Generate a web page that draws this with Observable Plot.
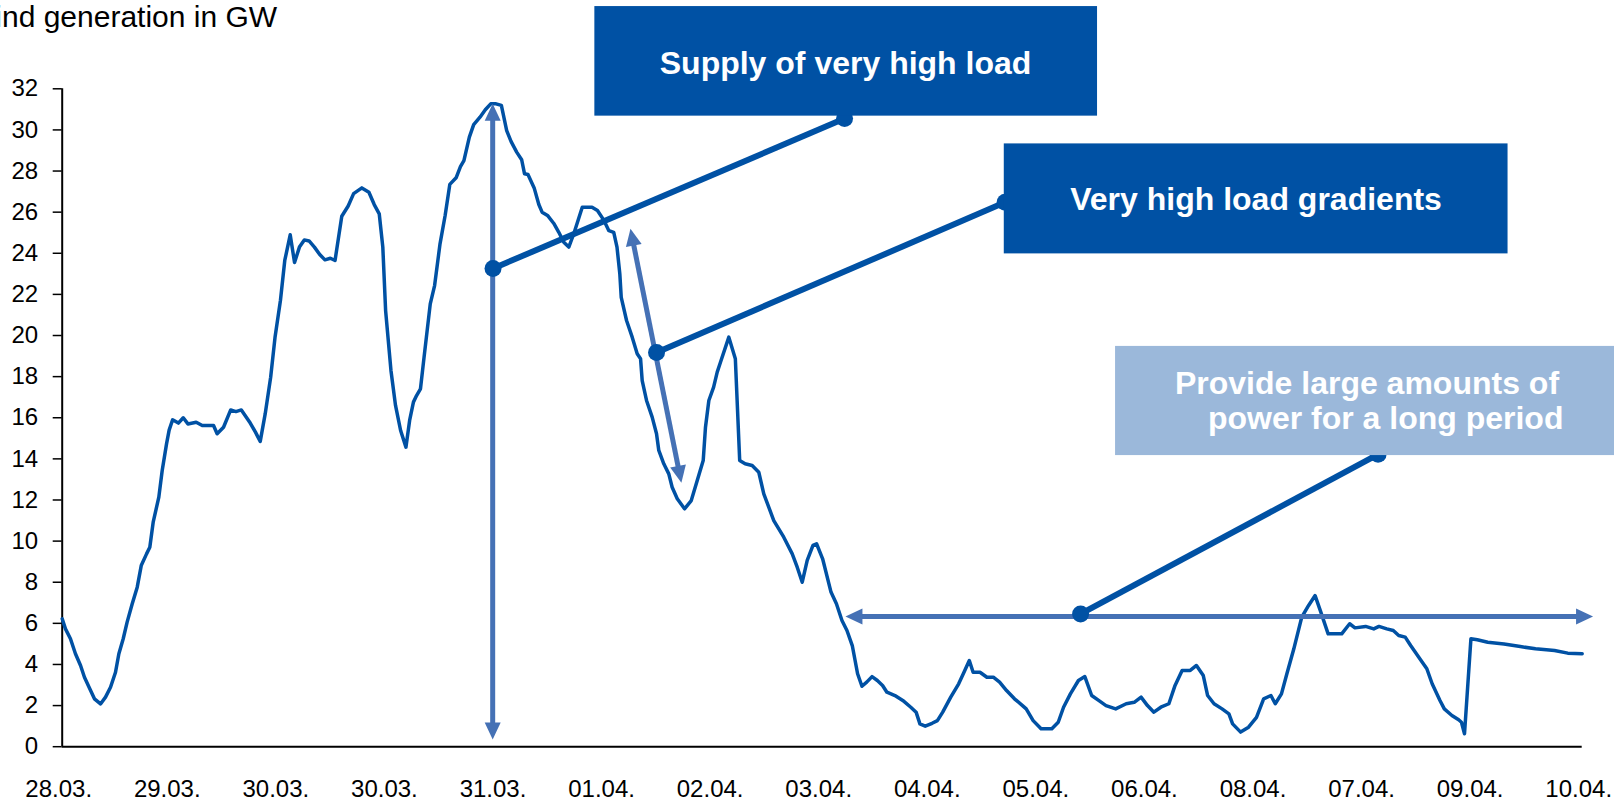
<!DOCTYPE html>
<html>
<head>
<meta charset="utf-8">
<script src="https://cdn.jsdelivr.net/npm/d3@7"></script>
<script src="https://cdn.jsdelivr.net/npm/@observablehq/plot@0.6"></script>
<style>
  html, body { margin: 0; padding: 0; background: #fff; overflow: hidden; }
  #wrap { position: relative; width: 1614px; height: 802px; overflow: hidden; }
  #chart svg { display: block; }
  #title {
    position: absolute; left: -33px; top: 2px; z-index: 1;
    font: 30px "Liberation Sans", Arial, sans-serif; line-height: 30px;
    color: #000; white-space: nowrap;
  }
</style>
</head>
<body>
<div id="wrap">
  <div id="chart"></div>
  <div id="title">Wind generation in GW</div>
</div>
<script>
// Axis tick labels (one per day, as printed on the axis)
const dayLabels = ["28.03.", "29.03.", "30.03.", "30.03.", "31.03.", "01.04.", "02.04.", "03.04.",
                   "04.04.", "05.04.", "06.04.", "08.04.", "07.04.", "09.04.", "10.04."];

// Wind generation: time in days from the first tick, output in GW
const day = [
  0.000, 0.030, 0.076, 0.122, 0.169, 0.205, 0.254, 0.297, 0.353, 0.399, 0.445, 0.491, 0.522, 0.562,
  0.598, 0.645, 0.691, 0.728, 0.777, 0.807, 0.838, 0.890, 0.921, 0.961, 0.985, 1.017, 1.070, 1.115,
  1.158, 1.234, 1.290, 1.394, 1.427, 1.486, 1.552, 1.600, 1.650, 1.732, 1.780, 1.824, 1.870, 1.920,
  1.960, 2.010, 2.050, 2.100, 2.140, 2.185, 2.230, 2.274, 2.323, 2.372, 2.420, 2.470, 2.513, 2.575,
  2.634, 2.684, 2.760, 2.825, 2.874, 2.920, 2.953, 2.979, 3.028, 3.070, 3.117, 3.166, 3.200, 3.235,
  3.264, 3.300, 3.333, 3.390, 3.430, 3.480, 3.527, 3.570, 3.628, 3.668, 3.700, 3.750, 3.790, 3.848,
  3.897, 3.947, 3.996, 4.045, 4.094, 4.134, 4.186, 4.232, 4.258, 4.290, 4.347, 4.390, 4.420, 4.470,
  4.528, 4.574, 4.620, 4.666, 4.712, 4.790, 4.880, 4.930, 4.990, 5.035, 5.080, 5.110, 5.136, 5.149,
  5.198, 5.250, 5.296, 5.327, 5.342, 5.382, 5.434, 5.474, 5.495, 5.541, 5.587, 5.618, 5.665, 5.732,
  5.794, 5.849, 5.904, 5.925, 5.956, 6.000, 6.033, 6.063, 6.140, 6.200, 6.240, 6.290, 6.355, 6.416,
  6.462, 6.554, 6.646, 6.724, 6.770, 6.816, 6.862, 6.915, 6.948, 7.004, 7.081, 7.131, 7.182, 7.228,
  7.277, 7.326, 7.366, 7.410, 7.459, 7.508, 7.556, 7.596, 7.670, 7.742, 7.816, 7.865, 7.900, 7.949,
  8.012, 8.061, 8.110, 8.184, 8.257, 8.306, 8.355, 8.390, 8.453, 8.517, 8.576, 8.634, 8.698, 8.771,
  8.845, 8.879, 8.943, 9.016, 9.115, 9.174, 9.223, 9.286, 9.360, 9.419, 9.482, 9.546, 9.614, 9.703,
  9.800, 9.874, 9.937, 9.996, 10.055, 10.119, 10.193, 10.250, 10.315, 10.390, 10.447, 10.510, 10.550,
  10.609, 10.683, 10.746, 10.780, 10.854, 10.927, 11.000, 11.066, 11.133, 11.173, 11.230, 11.280,
  11.344, 11.417, 11.480, 11.540, 11.588, 11.660, 11.785, 11.858, 11.907, 12.005, 12.080, 12.128,
  12.200, 12.260, 12.310, 12.370, 12.420, 12.495, 12.569, 12.618, 12.690, 12.730, 12.800, 12.862,
  12.888, 12.916, 12.975, 13.034, 13.130, 13.280, 13.430, 13.570, 13.745, 13.867, 14.000
];
const gw = [
  6.22, 5.73, 5.25, 4.52, 3.95, 3.38, 2.82, 2.33, 2.08, 2.41, 2.89, 3.62, 4.52, 5.25,
  6.06, 6.95, 7.76, 8.81, 9.38, 9.70, 10.92, 12.14, 13.43, 14.73, 15.40, 15.90, 15.74, 16.00,
  15.70, 15.78, 15.62, 15.62, 15.22, 15.54, 16.38, 16.30, 16.38, 15.74, 15.30, 14.85, 16.20, 17.97,
  19.90, 21.70, 23.65, 24.90, 23.55, 24.30, 24.65, 24.60, 24.30, 23.94, 23.68, 23.76, 23.65, 25.80,
  26.30, 26.90, 27.18, 26.97, 26.37, 25.92, 24.30, 21.20, 18.30, 16.60, 15.38, 14.57, 15.87, 16.76,
  17.08, 17.41, 18.95, 21.54, 22.43, 24.46, 25.84, 27.35, 27.67, 28.22, 28.51, 29.65, 30.26, 30.62,
  30.98, 31.27, 31.27, 31.19, 29.97, 29.44, 28.92, 28.55, 27.87, 27.83, 27.18, 26.37, 26.00, 25.84,
  25.45, 25.02, 24.54, 24.30, 24.95, 26.24, 26.24, 26.08, 25.60, 25.10, 25.02, 24.30, 23.00, 21.86,
  20.73, 19.92, 19.11, 18.87, 17.81, 16.84, 16.03, 15.22, 14.41, 13.76, 13.27, 12.62, 12.06, 11.57,
  11.97, 12.95, 13.92, 15.54, 16.84, 17.49, 18.22, 18.70, 19.92, 18.87, 13.92, 13.76, 13.68, 13.35,
  12.30, 11.00, 10.19, 9.38, 8.73, 8.00, 9.06, 9.79, 9.87, 9.14, 7.52, 6.95, 6.14, 5.65,
  4.92, 3.55, 2.94, 3.14, 3.41, 3.22, 2.98, 2.65, 2.49, 2.25, 1.92, 1.68, 1.11, 1.00,
  1.14, 1.27, 1.68, 2.41, 3.06, 3.62, 4.19, 3.62, 3.62, 3.38, 3.38, 3.14, 2.73, 2.33,
  2.00, 1.84, 1.27, 0.87, 0.87, 1.19, 1.92, 2.57, 3.22, 3.41, 2.49, 2.25, 2.00, 1.84,
  2.09, 2.16, 2.41, 2.00, 1.68, 1.92, 2.09, 2.98, 3.71, 3.71, 3.95, 3.46, 2.49,
  2.09, 1.84, 1.60, 1.11, 0.71, 0.95, 1.43, 2.33, 2.49, 2.09, 2.57, 3.55,
  4.76, 6.30, 6.87, 7.35, 6.62, 5.49, 5.49, 5.98, 5.78, 5.85, 5.73, 5.85,
  5.73, 5.65, 5.41, 5.33, 4.92, 4.35, 3.79, 3.06, 2.25, 1.84, 1.52, 1.31,
  1.19, 0.63, 5.25, 5.20, 5.08, 5.00, 4.87, 4.76, 4.68, 4.55, 4.52
];

// Callout texts
const calloutLines = [
  {x: 7.215, y: 33.23, text: "Supply of very high load"},
  {x: 10.996, y: 26.58, text: "Very high load gradients"},
  {x: 12.018, y: 17.66, text: "Provide large amounts of"},
  {x: 12.190, y: 15.96, text: "power for a long period"}
];
// Callout boxes (data units: days, GW)
const darkBoxes = [
  {x1: 4.906, x2: 9.536, y1: 30.67, y2: 36.0},
  {x1: 8.677, x2: 13.317, y1: 23.97, y2: 29.32}
];
const lightBoxes = [
  {x1: 9.702, x2: 14.4, y1: 14.16, y2: 19.47}
];
// Double-headed arrows marking peak load, gradient and duration
const arrows = [
  {x1: 3.965, y1: 0.35, x2: 3.965, y2: 31.27},
  {x1: 5.703, y1: 12.84, x2: 5.234, y2: 25.19},
  {x1: 7.214, y1: 6.33, x2: 14.10, y2: 6.33}
];
// Leader lines from the arrows to the callout boxes
const leaders = [
  {x1: 3.968, y1: 23.26, x2: 7.206, y2: 30.55},
  {x1: 5.474, y1: 19.17, x2: 8.685, y2: 26.48},
  {x1: 9.380, y1: 6.46, x2: 12.120, y2: 14.22}
];

const DARK = "#0051A4";
const LINE = "#0051A4";
const ARROW = "#4571B5";
const LIGHT = "#9BB8DA";
const FONT = "'Liberation Sans', Arial, Helvetica, sans-serif";

const series = day.map((d, i) => ({day: d, gw: gw[i]}));

const layout = {
  width: 1614,
  height: 802,
  marginLeft: 61.7,
  marginRight: 32.3,
  marginTop: 88.3,
  marginBottom: 55.8,
  x: {domain: [0, 14]},
  y: {domain: [0, 32]},
  style: {fontFamily: FONT, background: "white", color: "black", overflow: "visible"}
};

// First pass: obtain the scales to orient the arrowheads in screen space
const probe = Plot.plot({...layout, marks: [Plot.line(series, {x: "day", y: "gw"})]});
const sx = probe.scale("x"), sy = probe.scale("y");
const heading = (fx, fy, tx, ty) =>
  Math.atan2(sx.apply(tx) - sx.apply(fx), -(sy.apply(ty) - sy.apply(fy))) * 180 / Math.PI;

const heads = arrows.flatMap(a => [
  {x: a.x2, y: a.y2, angle: heading(a.x1, a.y1, a.x2, a.y2)},
  {x: a.x1, y: a.y1, angle: heading(a.x2, a.y2, a.x1, a.y1)}
]);
const leaderEnds = leaders.flatMap(l => [{x: l.x1, y: l.y1}, {x: l.x2, y: l.y2}]);

// Filled arrowhead with its tip at the anchor point, pointing up before rotation
const headSymbol = {
  draw(ctx) {
    ctx.moveTo(0, 0);
    ctx.lineTo(8, 17);
    ctx.lineTo(-8, 17);
    ctx.closePath();
  }
};

const chart = Plot.plot({
  ...layout,
  marks: [
    Plot.axisY(d3.range(0, 33, 2), {
      tickSize: 9, tickPadding: 15, fontSize: 24, label: null, strokeWidth: 1.5
    }),
    Plot.axisX(d3.range(0, 15), {
      tickSize: 0, tickPadding: 33, fontSize: 24, label: null, dx: -3.5,
      tickFormat: i => dayLabels[i]
    }),
    Plot.ruleX([0], {y1: 0, y2: 32, stroke: "black", strokeWidth: 2}),
    Plot.ruleY([0], {x1: 0, x2: 14, stroke: "black", strokeWidth: 2}),
    Plot.line(series, {x: "day", y: "gw", stroke: LINE, strokeWidth: 3.5, strokeLinejoin: "round"}),
    Plot.arrow(arrows, {
      x1: "x1", y1: "y1", x2: "x2", y2: "y2",
      stroke: ARROW, strokeWidth: 5, headLength: 0, insetStart: 12, insetEnd: 12, strokeLinecap: "butt"
    }),
    Plot.dot(heads, {x: "x", y: "y", rotate: "angle", symbol: headSymbol, fill: ARROW, stroke: "none"}),
    Plot.link(leaders, {x1: "x1", y1: "y1", x2: "x2", y2: "y2", stroke: DARK, strokeWidth: 6}),
    Plot.dot(leaderEnds, {x: "x", y: "y", r: 8.5, fill: DARK, stroke: "none"}),
    Plot.rect(darkBoxes, {x1: "x1", x2: "x2", y1: "y1", y2: "y2", fill: DARK}),
    Plot.rect(lightBoxes, {x1: "x1", x2: "x2", y1: "y1", y2: "y2", fill: LIGHT}),
    Plot.text(calloutLines, {
      x: "x", y: "y", text: "text", fill: "white", fontSize: 32, fontWeight: "bold"
    })
  ]
});

document.getElementById("chart").appendChild(chart);
</script>
</body>
</html>
